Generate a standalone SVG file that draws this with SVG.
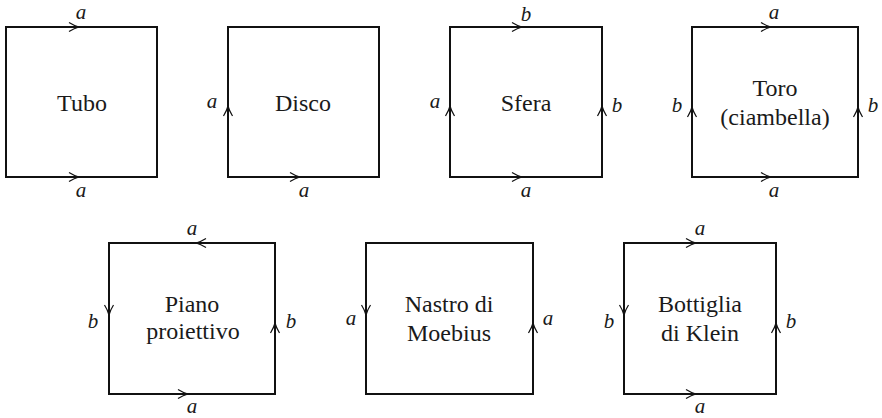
<svg xmlns="http://www.w3.org/2000/svg" width="882" height="418" viewBox="0 0 882 418" font-family="'Liberation Serif', 'DejaVu Serif', 'Times New Roman', Times, serif">
<style>
.sq{fill:none;stroke:#111;stroke-width:2}
.t{font-size:24px;fill:#1a1a1a;text-anchor:middle}
.l{font-style:italic;font-size:21px;fill:#1a1a1a;text-anchor:middle}
</style>
<defs>
<path id="ah" d="M-10,-4.5 C-6,-2 -2,-0.5 0,0 C-2,0.5 -6,2 -10,4.5" fill="none" stroke="#111" stroke-width="1.2"/>
</defs>
<rect width="882" height="418" fill="#fff"/>
<g id="connectors">
<use href="#ah" transform="translate(79,27)"/>
<use href="#ah" transform="translate(79,177)"/>
<use href="#ah" transform="translate(228,106) rotate(-90)"/>
<use href="#ah" transform="translate(300,177)"/>
<use href="#ah" transform="translate(522,27)"/>
<use href="#ah" transform="translate(522,177)"/>
<use href="#ah" transform="translate(450,106) rotate(-90)"/>
<use href="#ah" transform="translate(602,106) rotate(-90)"/>
<use href="#ah" transform="translate(771,27)"/>
<use href="#ah" transform="translate(771,177)"/>
<use href="#ah" transform="translate(692,107) rotate(-90)"/>
<use href="#ah" transform="translate(858,107) rotate(-90)"/>
<use href="#ah" transform="translate(196,243) rotate(180)"/>
<use href="#ah" transform="translate(188,394)"/>
<use href="#ah" transform="translate(109,315) rotate(90)"/>
<use href="#ah" transform="translate(275,323) rotate(-90)"/>
<use href="#ah" transform="translate(366,315) rotate(90)"/>
<use href="#ah" transform="translate(533,323) rotate(-90)"/>
<use href="#ah" transform="translate(696,243)"/>
<use href="#ah" transform="translate(696,394)"/>
<use href="#ah" transform="translate(624,315) rotate(90)"/>
<use href="#ah" transform="translate(776,323) rotate(-90)"/>
</g>
<g id="tubo">
<rect class="sq" x="6" y="27" width="151" height="150"/>
<text class="t" x="82" y="111">Tubo</text>
<text class="l" x="81" y="19">a</text>
<text class="l" x="81" y="197">a</text>
</g>
<g id="disco">
<rect class="sq" x="228" y="27" width="151" height="150"/>
<text class="t" x="303" y="111">Disco</text>
<text class="l" x="212" y="108">a</text>
<text class="l" x="304" y="197">a</text>
</g>
<g id="sfera">
<rect class="sq" x="450" y="27" width="152" height="150"/>
<text class="t" x="526" y="111">Sfera</text>
<text class="l" x="526" y="21">b</text>
<text class="l" x="435" y="108">a</text>
<text class="l" x="617" y="112">b</text>
<text class="l" x="526" y="197">a</text>
</g>
<g id="toro">
<rect class="sq" x="692" y="27" width="166" height="150"/>
<text class="t" x="775" y="96">Toro</text>
<text class="t" x="775" y="125">(ciambella)</text>
<text class="l" x="774" y="19">a</text>
<text class="l" x="677" y="112">b</text>
<text class="l" x="873" y="112">b</text>
<text class="l" x="774" y="197">a</text>
</g>
<g id="piano">
<rect class="sq" x="109" y="243" width="166" height="151"/>
<text class="t" x="192" y="312">Piano</text>
<text class="t" x="193" y="339">proiettivo</text>
<text class="l" x="192" y="235">a</text>
<text class="l" x="93" y="328">b</text>
<text class="l" x="291" y="328">b</text>
<text class="l" x="192" y="413">a</text>
</g>
<g id="nastro">
<rect class="sq" x="366" y="243" width="167" height="151"/>
<text class="t" x="449" y="312">Nastro di</text>
<text class="t" x="449" y="341">Moebius</text>
<text class="l" x="351" y="325">a</text>
<text class="l" x="548" y="325">a</text>
</g>
<g id="klein">
<rect class="sq" x="624" y="243" width="152" height="151"/>
<text class="t" x="700" y="312">Bottiglia</text>
<text class="t" x="700" y="341">di Klein</text>
<text class="l" x="700" y="235">a</text>
<text class="l" x="609" y="328">b</text>
<text class="l" x="791" y="328">b</text>
<text class="l" x="700" y="413">a</text>
</g>
</svg>
